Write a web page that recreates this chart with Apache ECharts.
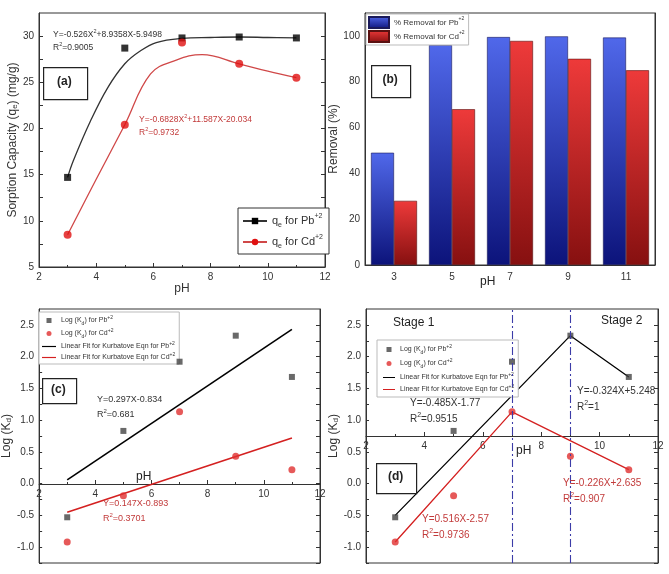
<!DOCTYPE html>
<html lang="en">
<head>
<meta charset="utf-8" />
<title>pH effect</title>
<script src="https://cdn.jsdelivr.net/npm/echarts@6/dist/echarts.min.js"></script>
<style>
  html, body { margin: 0; padding: 0; background: #fff; }
  #chart { width: 669px; height: 574px; }
</style>
</head>
<body>
<div id="chart"></div>
<script>
// measured points, pH 3..11
var phX = [3, 5, 7, 9, 11];
var qePb = [14.7, 28.7, 29.8, 29.9, 29.8];
var qeCd = [8.5, 20.4, 29.3, 27.0, 25.5];

// fitted curves
var fitPbAx = [3, 3.2, 3.8, 4.4, 5, 5.5, 6.1, 7, 8, 9, 10, 11];
var fitPbAy = [14.7, 16.5, 20.8, 24.4, 27.0, 28.3, 29.3, 29.75, 29.85, 29.9, 29.85, 29.8];
var fitCdAx = [3, 4, 5, 5.9, 6.8, 7.7, 9, 10, 11];
var fitCdAy = [8.5, 14.5, 20.4, 25.9, 27.4, 28.0, 27.0, 26.2, 25.5];

// panel (b)
var phCats = ['3', '5', '7', '9', '11'];
var removalPb = [49, 96, 99.5, 99.8, 99.3];
var removalCd = [28, 68, 97.8, 90, 85];

// panels (c), (d)
var logKdPb = [-0.53, 0.83, 1.92, 2.33, 1.68];
var logKdCd = [-0.92, -0.19, 1.13, 0.43, 0.22];
var fitPbCx = [3, 11], fitPbCy = [0.06, 2.43];
var fitCdCx = [3, 11], fitCdCy = [-0.45, 0.72];
var fitPbDx = [3, 9, 11], fitPbDy = [-0.5, 2.33, 1.68];
var fitCdDx = [3, 7, 11], fitCdDy = [-0.92, 1.13, 0.22];
var stageX = [7, 9];

var ticksA = [5, 10, 15, 20, 25, 30];
var ticksAminor = [5, 7.5, 10, 12.5, 15, 17.5, 20, 22.5, 25, 27.5, 30];
var ticksB = [0, 20, 40, 60, 80, 100];
var ticksBminor = [0, 10, 20, 30, 40, 50, 60, 70, 80, 90, 100];
var ticksK = [-1, -0.5, 0, 0.5, 1, 1.5, 2, 2.5];
var ticksKminor = [-1.25, -1, -0.75, -0.5, -0.25, 0, 0.25, 0.5, 0.75, 1, 1.25, 1.5, 1.75, 2, 2.25, 2.5];

function pairs(xs, ys) {
  return xs.map(function (x, i) { return [x, ys[i]]; });
}

var FONT = '"Liberation Sans", Arial, sans-serif';
var INK = '#333';
var RED_TXT = '#c23a3a';
var LINE_ICON = 'path://M0,0L24,0L24,2L0,2Z';
var SQUARE_ICON = 'path://M0,0L10,0L10,10L0,10Z';

var chart = echarts.init(document.getElementById('chart'));

var rich = {
  n: { fontFamily: FONT, fontSize: 11, color: INK },
  sub: { fontFamily: FONT, fontSize: 7, color: INK, verticalAlign: 'bottom', lineHeight: 8 },
  sup: { fontFamily: FONT, fontSize: 7, color: INK, verticalAlign: 'top', lineHeight: 16 },
  sn: { fontFamily: FONT, fontSize: 7, color: INK },
  ssub: { fontFamily: FONT, fontSize: 5, color: INK, verticalAlign: 'bottom', lineHeight: 6 },
  ssup: { fontFamily: FONT, fontSize: 5, color: INK, verticalAlign: 'top', lineHeight: 11 },
  bn: { fontFamily: FONT, fontSize: 8, color: INK },
  bsup: { fontFamily: FONT, fontSize: 5, color: INK, verticalAlign: 'top', lineHeight: 12 }
};

var legendNames = {
  'qPb': '{n|q}{sub|e}{n| for Pb}{sup|+2}',
  'qCd': '{n|q}{sub|e}{n| for Cd}{sup|+2}',
  'rPb': '{bn|% Removal for Pb}{bsup|+2}',
  'rCd': '{bn|% Removal for Cd}{bsup|+2}',
  'kPbC': '{sn|Log (K}{ssub|d}{sn|) for Pb}{ssup|+2}',
  'kCdC': '{sn|Log (K}{ssub|d}{sn|) for Cd}{ssup|+2}',
  'lPbC': '{sn|Linear Fit for Kurbatove Eqn for Pb}{ssup|+2}',
  'lCdC': '{sn|Linear Fit for Kurbatove Eqn for Cd}{ssup|+2}',
  'kPbD': '{sn|Log (K}{ssub|d}{sn|) for Pb}{ssup|+2}',
  'kCdD': '{sn|Log (K}{ssub|d}{sn|) for Cd}{ssup|+2}',
  'lPbD': '{sn|Linear Fit for Kurbatove Eqn for Pb}{ssup|+2}',
  'lCdD': '{sn|Linear Fit for Kurbatove Eqn for Cd}{ssup|+2}'
};
function legendFmt(name) { return legendNames[name]; }

function valueX(gi, extra) {
  var ax = {
    type: 'value', gridIndex: gi, min: 2, max: 12, interval: 2,
    axisLine: { onZero: false, lineStyle: { color: INK } },
    axisTick: { inside: true, length: 4, lineStyle: { color: INK } },
    minorTick: { show: true, splitNumber: 2, length: 2, lineStyle: { color: INK } },
    axisLabel: { color: INK, fontFamily: FONT, fontSize: 10, margin: 5 },
    splitLine: { show: false }
  };
  return Object.assign(ax, extra || {});
}
function mirrorY(gi, min, max, ticks) {
  return {
    type: 'value', gridIndex: gi, position: 'right', min: min, max: max,
    axisLine: { show: true, lineStyle: { color: INK } },
    axisTick: { inside: true, length: 4, customValues: ticks, lineStyle: { color: INK } },
    axisLabel: { show: false }, splitLine: { show: false }
  };
}
function logKAxis(gi, gap) {
  return {
    type: 'value', gridIndex: gi, min: -1.25, max: 2.75,
    name: '{n|Log (K}{sub|d}{n|)}', nameLocation: 'middle', nameGap: gap,
    nameTextStyle: { rich: { n: { fontFamily: FONT, fontSize: 12, color: INK },
      sub: { fontFamily: FONT, fontSize: 8, color: INK, verticalAlign: 'bottom', lineHeight: 8 } } },
    axisLine: { show: true, onZero: false, lineStyle: { color: INK } },
    axisTick: { inside: true, length: 3, customValues: ticksKminor, lineStyle: { color: INK } },
    axisLabel: { customValues: ticksK, color: INK, fontFamily: FONT, fontSize: 10, margin: 5,
      formatter: function (v) { return v.toFixed(1); } },
    splitLine: { show: false }
  };
}

var gradBlue = new echarts.graphic.LinearGradient(0, 0, 0, 1, [
  { offset: 0, color: '#5068ea' }, { offset: 1, color: '#0c137a' }
]);
var gradRed = new echarts.graphic.LinearGradient(0, 0, 0, 1, [
  { offset: 0, color: '#ee3a3a' }, { offset: 1, color: '#861010' }
]);

function eqText(left, top, str, color, size) {
  var c = color || INK;
  var fs = size || 9;
  return {
    type: 'text', left: left, top: top, z: 20,
    style: {
      text: str, fill: c, font: fs + 'px ' + FONT,
      rich: {
        t: { fontFamily: FONT, fontSize: fs, color: c },
        p: { fontFamily: FONT, fontSize: fs - 3, color: c, verticalAlign: 'top', lineHeight: fs + 5 }
      }
    }
  };
}
function tagBox(left, top, w, h, label) {
  return [
    { type: 'rect', left: left, top: top, z: 20, shape: { width: w, height: h },
      style: { fill: '#fff', stroke: '#222', lineWidth: 1.2 } },
    { type: 'text', left: left + w / 2 - 8, top: top + h / 2 - 7, z: 21,
      style: { text: label, fill: '#222', font: 'bold 12px ' + FONT } }
  ];
}
function plainText(left, top, str, size) {
  return { type: 'text', left: left, top: top, z: 20,
    style: { text: str, fill: '#222', font: (size || 12) + 'px ' + FONT } };
}

var option = {
  backgroundColor: '#fff',
  animation: false,
  textStyle: { fontFamily: FONT },
  grid: [
    { left: 39, top: 13, width: 286, height: 254, show: true, borderColor: INK, borderWidth: 1 },
    { left: 365, top: 13, width: 290, height: 252, show: true, borderColor: INK, borderWidth: 1 },
    { left: 35, top: 309, width: 285, height: 254, show: true, borderColor: INK, borderWidth: 1 },
    { left: 366, top: 309, width: 292, height: 254, show: true, borderColor: INK, borderWidth: 1 }
  ],
  xAxis: [
    valueX(0, { name: 'pH', nameLocation: 'middle', nameGap: 14,
      nameTextStyle: { color: INK, fontFamily: FONT, fontSize: 12 } }),
    {
      type: 'category', gridIndex: 1, data: phCats,
      axisLine: { lineStyle: { color: INK } },
      axisTick: { alignWithLabel: true, inside: false, length: 3, lineStyle: { color: INK } },
      axisLabel: { color: INK, fontFamily: FONT, fontSize: 10, margin: 7 }
    },
    // x axis of (c) sits on log K = 0, that of (d) on log K = 0.75
    valueX(2, { offset: -79 }),
    valueX(3, { offset: -127 })
  ],
  yAxis: [
    {
      type: 'value', gridIndex: 0, min: 5, max: 32.5,
      name: '{n|Sorption Capacity (q}{sub|e}{n|) (mg/g)}', nameLocation: 'middle', nameGap: 20,
      nameTextStyle: { rich: { n: { fontFamily: FONT, fontSize: 12, color: INK },
        sub: { fontFamily: FONT, fontSize: 8, color: INK, verticalAlign: 'bottom', lineHeight: 8 } } },
      axisLine: { show: true, lineStyle: { color: INK } },
      axisTick: { inside: true, length: 4, customValues: ticksAminor, lineStyle: { color: INK } },
      axisLabel: { customValues: ticksA, color: INK, fontFamily: FONT, fontSize: 10, margin: 5 },
      splitLine: { show: false }
    },
    {
      type: 'value', gridIndex: 1, min: 0, max: 110,
      name: 'Removal (%)', nameLocation: 'middle', nameGap: 21,
      nameTextStyle: { color: INK, fontFamily: FONT, fontSize: 12 },
      axisLine: { show: true, lineStyle: { color: INK } },
      axisTick: { inside: false, length: 3, customValues: ticksB, lineStyle: { color: INK } },
      axisLabel: { customValues: ticksB, color: INK, fontFamily: FONT, fontSize: 10, margin: 5 },
      splitLine: { show: false }
    },
    logKAxis(2, 19),
    logKAxis(3, 22),
    mirrorY(0, 5, 32.5, ticksAminor),
    mirrorY(1, 0, 110, ticksBminor),
    mirrorY(2, -1.25, 2.75, ticksKminor),
    mirrorY(3, -1.25, 2.75, ticksKminor)
  ],
  legend: [
    {
      data: ['qPb', 'qCd'], left: 238, top: 208, orient: 'vertical',
      backgroundColor: '#fff', borderColor: '#333', borderWidth: 1, padding: [5, 6, 4, 4],
      itemGap: 5, itemWidth: 24, itemHeight: 8, formatter: legendFmt,
      textStyle: { rich: rich }
    },
    {
      data: [{ name: 'rPb', icon: 'rect' }, { name: 'rCd', icon: 'rect' }],
      left: 366, top: 14, orient: 'vertical',
      backgroundColor: '#fff', borderColor: '#bbb', borderWidth: 1, padding: [2, 4, 2, 2],
      itemGap: 1, itemWidth: 20, itemHeight: 11, formatter: legendFmt,
      textStyle: { rich: rich }
    },
    {
      data: [{ name: 'kPbC', icon: SQUARE_ICON }, 'kCdC',
        { name: 'lPbC', icon: LINE_ICON }, { name: 'lCdC', icon: LINE_ICON }],
      left: 39, top: 312, orient: 'vertical',
      backgroundColor: '#fff', borderColor: '#bbb', borderWidth: 1, padding: [3, 4, 3, 3],
      itemGap: 2, itemWidth: 14, itemHeight: 5, formatter: legendFmt,
      textStyle: { rich: rich }
    },
    {
      data: [{ name: 'kPbD', icon: SQUARE_ICON }, 'kCdD',
        { name: 'lPbD', icon: LINE_ICON }, { name: 'lCdD', icon: LINE_ICON }],
      left: 377, top: 340, orient: 'vertical',
      backgroundColor: '#fff', borderColor: '#bbb', borderWidth: 1, padding: [4, 4, 4, 6],
      itemGap: 3, itemWidth: 12, itemHeight: 5, formatter: legendFmt,
      textStyle: { rich: rich }
    }
  ],
  series: [
    // (a)
    { name: 'qPb', type: 'line', xAxisIndex: 0, yAxisIndex: 0, smooth: 0.4,
      data: pairs(fitPbAx, fitPbAy), showSymbol: false, symbol: 'rect', symbolSize: 7,
      lineStyle: { color: '#333', width: 1.3 }, itemStyle: { color: '#000' }, z: 2 },
    { name: 'qPbPts', type: 'scatter', xAxisIndex: 0, yAxisIndex: 0, symbol: 'rect', symbolSize: 7,
      data: pairs(phX, qePb), itemStyle: { color: '#000' }, z: 4 },
    { name: 'qCd', type: 'line', xAxisIndex: 0, yAxisIndex: 0, smooth: 0.4,
      data: pairs(fitCdAx, fitCdAy), showSymbol: false, symbol: 'circle', symbolSize: 8,
      lineStyle: { color: '#d04848', width: 1.3 }, itemStyle: { color: '#e01010' }, z: 2 },
    { name: 'qCdPts', type: 'scatter', xAxisIndex: 0, yAxisIndex: 0, symbol: 'circle', symbolSize: 8,
      data: pairs(phX, qeCd), itemStyle: { color: '#e01010' }, z: 4 },
    // (b)
    { name: 'rPb', type: 'bar', xAxisIndex: 1, yAxisIndex: 1, data: removalPb, barWidth: 23, barGap: '0%',
      itemStyle: { color: gradBlue, borderColor: '#1a1a5a', borderWidth: 0.6 } },
    { name: 'rCd', type: 'bar', xAxisIndex: 1, yAxisIndex: 1, data: removalCd, barWidth: 23,
      itemStyle: { color: gradRed, borderColor: '#5a1010', borderWidth: 0.6 } },
    // (c)
    { name: 'lPbC', type: 'line', xAxisIndex: 2, yAxisIndex: 2, data: pairs(fitPbCx, fitPbCy),
      symbol: 'none', lineStyle: { color: '#000', width: 1.6 }, itemStyle: { color: '#000' } },
    { name: 'lCdC', type: 'line', xAxisIndex: 2, yAxisIndex: 2, data: pairs(fitCdCx, fitCdCy),
      symbol: 'none', lineStyle: { color: '#d42020', width: 1.6 }, itemStyle: { color: '#d42020' } },
    { name: 'kPbC', type: 'scatter', xAxisIndex: 2, yAxisIndex: 2, symbol: 'rect', symbolSize: 6,
      data: pairs(phX, logKdPb), itemStyle: { color: '#444' }, z: 4 },
    { name: 'kCdC', type: 'scatter', xAxisIndex: 2, yAxisIndex: 2, symbol: 'circle', symbolSize: 7,
      data: pairs(phX, logKdCd), itemStyle: { color: '#e03030' }, z: 4 },
    // (d)
    { name: 'lPbD', type: 'line', xAxisIndex: 3, yAxisIndex: 3, data: pairs(fitPbDx, fitPbDy),
      symbol: 'none', lineStyle: { color: '#000', width: 1.3 }, itemStyle: { color: '#000' },
      markLine: {
        silent: true, symbol: 'none', label: { show: false },
        lineStyle: { color: '#3c3ca8', width: 1.1, type: [8, 3, 2, 3] },
        data: stageX.map(function (x) { return { xAxis: x }; })
      } },
    { name: 'lCdD', type: 'line', xAxisIndex: 3, yAxisIndex: 3, data: pairs(fitCdDx, fitCdDy),
      symbol: 'none', lineStyle: { color: '#d42020', width: 1.3 }, itemStyle: { color: '#d42020' } },
    { name: 'kPbD', type: 'scatter', xAxisIndex: 3, yAxisIndex: 3, symbol: 'rect', symbolSize: 6,
      data: pairs(phX, logKdPb), itemStyle: { color: '#444' }, z: 4 },
    { name: 'kCdD', type: 'scatter', xAxisIndex: 3, yAxisIndex: 3, symbol: 'circle', symbolSize: 7,
      data: pairs(phX, logKdCd), itemStyle: { color: '#e03030' }, z: 4 }
  ],
  graphic: [
    // (a) annotations
    eqText(53, 28, '{t|Y=-0.526X}{p|2}{t|+8.9358X-5.9498}', INK, 8.5),
    eqText(53, 41, '{t|R}{p|2}{t|=0.9005}', INK, 8.5),
    eqText(139, 113, '{t|Y=-0.6828X}{p|2}{t|+11.587X-20.034}', RED_TXT, 8.5),
    eqText(139, 126, '{t|R}{p|2}{t|=0.9732}', RED_TXT, 8.5)
  ]
    .concat(tagBox(43, 67, 44, 32, '(a)'))
    .concat(tagBox(371, 65, 39, 32, '(b)'))
    .concat([plainText(480, 276, 'pH')])
    // (c)
    .concat(tagBox(42, 378, 34, 25, '(c)'))
    .concat([
      eqText(97, 395, '{t|Y=0.297X-0.834}'),
      eqText(97, 408, '{t|R}{p|2}{t|=0.681}'),
      eqText(103, 499, '{t|Y=0.147X-0.893}', RED_TXT),
      eqText(103, 512, '{t|R}{p|2}{t|=0.3701}', RED_TXT),
      plainText(136, 471, 'pH')
    ])
    // (d)
    .concat(tagBox(376, 463, 40, 30, '(d)'))
    .concat([
      plainText(393, 317, 'Stage 1'),
      plainText(601, 315, 'Stage 2'),
      eqText(410, 398, '{t|Y=-0.485X-1.77}', INK, 10),
      eqText(410, 412, '{t|R}{p|2}{t|=0.9515}', INK, 10),
      eqText(577, 386, '{t|Y=-0.324X+5.248}', INK, 10),
      eqText(577, 400, '{t|R}{p|2}{t|=1}', INK, 10),
      eqText(422, 514, '{t|Y=0.516X-2.57}', RED_TXT, 10),
      eqText(422, 528, '{t|R}{p|2}{t|=0.9736}', RED_TXT, 10),
      eqText(563, 478, '{t|Y=-0.226X+2.635}', RED_TXT, 10),
      eqText(563, 492, '{t|R}{p|2}{t|=0.907}', RED_TXT, 10),
      plainText(516, 445, 'pH')
    ])
};

chart.setOption(option);
window.addEventListener('resize', function () { chart.resize(); });
</script>
</body>
</html>
